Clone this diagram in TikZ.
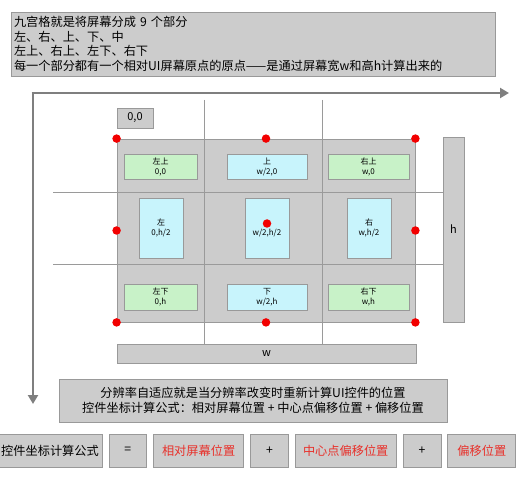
\documentclass[tikz,border=0pt]{standalone}
\usepackage{fontspec}
\setmainfont{Noto Sans CJK SC}
\usetikzlibrary{positioning,arrows.meta}

\definecolor{panel}{HTML}{CCCCCC}
\definecolor{boxline}{HTML}{999999}
\definecolor{gridgray}{HTML}{9A9A9A}
\definecolor{axisgray}{HTML}{7F7F7F}
\definecolor{cellgreen}{HTML}{C8F2C8}
\definecolor{cellcyan}{HTML}{C8F4FC}
\definecolor{dotred}{HTML}{F20000}
\definecolor{hotred}{HTML}{E8302A}

\begin{document}
\begin{tikzpicture}[x=1pt, y=-1pt,
    box/.style={draw=boxline, fill=panel, line width=0.8pt, inner sep=1pt},
    cell/.style={draw=boxline, line width=0.6pt, align=center, inner sep=0pt,
      font=\fontsize{8}{10}\selectfont},
    cornercell/.style={cell, fill=cellgreen},
    sidecell/.style={cell, fill=cellcyan},
    anchorpt/.style={circle, fill=dotred, inner sep=0pt, minimum size=8.5pt},
    gridline/.style={draw=gridgray, line width=0.8pt},
    axis/.style={draw=axisgray, line width=2.6pt, -{Triangle[length=9pt,width=10pt]}},
    formula/.style={box, minimum height=33pt, font=\fontsize{12.2}{14}\selectfont},
    ]
    \useasboundingbox (0,0) rectangle (520,500);

    % explanation on top
    \node[box, minimum width=484pt, minimum height=64pt, text width=478pt, inner sep=3pt,
      align=left, font=\fontsize{12.2}{14.7}\selectfont] (intro) at (253,44)
      {九宫格就是将屏幕分成 9 个部分\\左、右、上、下、中\\左上、右上、左下、右下\\每一个部分都有一个相对UI屏幕原点的原点——是通过屏幕宽w和高h计算出来的};

    % screen axes
    \coordinate (origin) at (33,93);
    \coordinate (xend) at (509,93);
    \coordinate (yend) at (33,404);
    \draw[axis] ([xshift=-1.3pt]origin) -- (xend);
    \draw[axis] (origin) -- (yend);

    \node[box, minimum width=36pt, minimum height=20pt, font=\fontsize{11}{13}\selectfont]
      (zero) at (135,118) {0,0};

    % the screen
    \node[box, minimum width=298pt, minimum height=183pt] (screen) at (266,230.5) {};
    \node[box, minimum width=21pt, minimum height=185pt, font=\fontsize{11}{13}\selectfont]
      (hbar) at (453.5,229.5) {h};
    \node[box, minimum width=299pt, minimum height=19pt, font=\fontsize{11}{13}\selectfont]
      (wbar) at (266.5,353.5) {w};

    % grid of nine parts
    \foreach \gx [count=\i] in {204,322} {
      \coordinate (vtop\i) at (\gx,100);
      \coordinate (vbot\i) at (\gx,344);
      \draw[gridline] (vtop\i) -- (vbot\i);
    }
    \foreach \gy [count=\i] in {192,264} {
      \coordinate (hleft\i) at (53,\gy);
      \coordinate (hright\i) at (443,\gy);
      \draw[gridline] (hleft\i) -- (hright\i);
    }

    \node[cornercell, minimum width=73pt, minimum height=25pt] (lt) at (160.5,166.5) {左上\\0,0};
    \node[sidecell, minimum width=80pt, minimum height=25pt] (tp) at (267,166.5) {上\\w/2,0};
    \node[cornercell, minimum width=81pt, minimum height=25pt] (rt) at (368.5,166.5) {右上\\w,0};
    \node[sidecell, minimum width=44pt, minimum height=60pt] (lf) at (161,228) {左\\0,h/2};
    \node[sidecell, minimum width=44pt, minimum height=60pt] (md) at (267,228) {\phantom{左}\\w/2,h/2};
    \node[sidecell, minimum width=44pt, minimum height=60pt] (rg) at (369,228) {右\\w,h/2};
    \node[cornercell, minimum width=73pt, minimum height=26pt] (lb) at (160.5,297) {左下\\0,h};
    \node[sidecell, minimum width=80pt, minimum height=26pt] (bt) at (267,297) {下\\w/2,h};
    \node[cornercell, minimum width=81pt, minimum height=26pt] (rb) at (368.5,297) {右下\\w,h};

    % origins of the parts
    \foreach \a in {north west,north,north east,west,east,south west,south,south east}
      \node[anchorpt] at (screen.\a) {};
    \node[anchorpt] (mddot) at ([yshift=4.5pt]md.center) {};

    % formula
    \node[box, minimum width=388pt, minimum height=43pt, align=center,
      font=\fontsize{12.2}{15}\selectfont] (summary) at (253,400.5)
      {分辨率自适应就是当分辨率改变时重新计算UI控件的位置\\控件坐标计算公式：相对屏幕位置 + 中心点偏移位置 + 偏移位置};

    \node[formula, minimum width=104pt] (lhs) at (50,450.5) {控件坐标计算公式};
    \node[formula, minimum width=37pt, right=6.5pt of lhs] (eq) {=};
    \node[formula, minimum width=90pt, right=6.5pt of eq, text=hotred] (rel) {相对屏幕位置};
    \node[formula, minimum width=38pt, right=6pt of rel] (plusa) {+};
    \node[formula, minimum width=101pt, right=6pt of plusa, text=hotred] (ctr) {中心点偏移位置};
    \node[formula, minimum width=38pt, right=6pt of ctr] (plusb) {+};
    \node[formula, minimum width=68pt, right=6pt of plusb, text=hotred] (off) {偏移位置};
\end{tikzpicture}
\end{document}
